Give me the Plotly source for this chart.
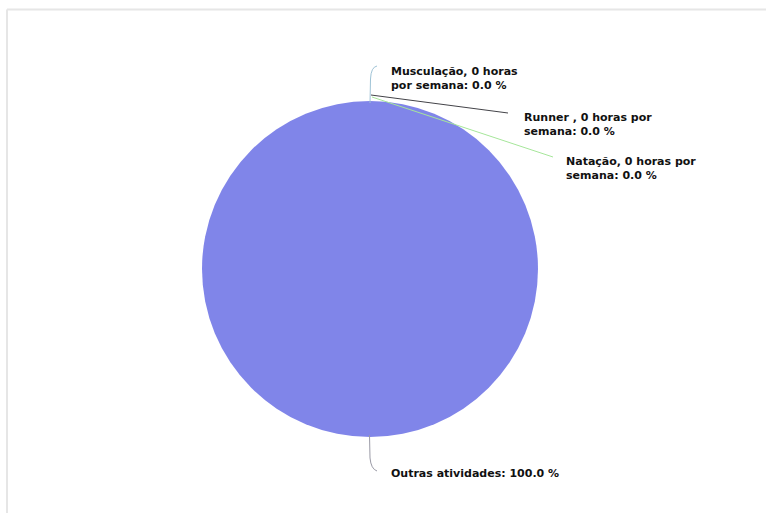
import math
import plotly.graph_objects as go

# ---- data ----
labels = ["Musculação", "Runner ", "Natação", "Outras atividades"]
hours = [0, 0, 0, None]
values = [0, 0, 0, 100]
colors = ["#7cb5ec", "#434348", "#90ed7d", "#8085e9"]
connector_colors = ["#9fc3d6", "#434348", "#a6e69a", "#9a9aa6"]

W, H = 766, 513
cx, cy, R = 370, 269, 168


def px(x):
    return x / W


def py(y):
    return 1 - y / H


fig = go.Figure()
fig.add_trace(go.Pie(
    labels=labels,
    values=values,
    sort=False,
    direction="clockwise",
    rotation=0,
    textinfo="none",
    hoverinfo="label+percent",
    marker=dict(colors=colors, line=dict(width=0)),
    domain=dict(x=[px(cx - R), px(cx + R)], y=[py(cy + R), py(cy - R)]),
    showlegend=False,
))

total = sum(values)
pcts = [v / total * 100 for v in values]

# label texts
texts = [
    f"{labels[0]}, {hours[0]} horas<br>por semana: {pcts[0]:.1f} %",
    f"{labels[1]}, {hours[1]} horas por<br>semana: {pcts[1]:.1f} %",
    f"{labels[2]}, {hours[2]} horas por<br>semana: {pcts[2]:.1f} %",
    f"{labels[3]}: {pcts[3]:.1f} %",
]

# connector start points from slice mid-angles
cum = 0
starts = []
for v in values:
    mid = (cum + v / 2) / total * 2 * math.pi
    starts.append((cx + R * math.sin(mid), cy - R * math.cos(mid)))
    cum += v

shapes = []
annotations = []

# Musculação: vertical then curve right
sx, sy = starts[0]
shapes.append(dict(type="path", xref="paper", yref="paper",
                   path=f"M {px(sx)},{py(sy + 2)} L {px(sx + 0.5)},{py(sy - 22)} "
                        f"Q {px(sx + 1)},{py(sy - 34)} {px(sx + 7)},{py(sy - 35)}",
                   line=dict(color=connector_colors[0], width=1)))
annotations.append(dict(x=px(sx + 19), y=py(sy - 22), text=texts[0]))

# Runner
sx, sy = starts[1]
shapes.append(dict(type="line", xref="paper", yref="paper",
                   x0=px(sx + 1), y0=py(sy - 6), x1=px(sx + 138), y1=py(sy + 12),
                   line=dict(color=connector_colors[1], width=1)))
annotations.append(dict(x=px(sx + 152), y=py(sy + 23), text=texts[1]))

# Natação
sx, sy = starts[2]
shapes.append(dict(type="line", xref="paper", yref="paper",
                   x0=px(sx + 2), y0=py(sy - 4), x1=px(sx + 183), y1=py(sy + 56),
                   line=dict(color=connector_colors[2], width=1)))
annotations.append(dict(x=px(sx + 194), y=py(sy + 67), text=texts[2]))

# Outras atividades: down then curve right
sx, sy = starts[3]
shapes.append(dict(type="path", xref="paper", yref="paper",
                   path=f"M {px(sx - 0.5)},{py(sy - 2)} L {px(sx)},{py(sy + 21)} "
                        f"Q {px(sx + 1)},{py(sy + 32)} {px(sx + 7)},{py(sy + 34)}",
                   line=dict(color=connector_colors[3], width=1)))
annotations.append(dict(x=px(sx + 19), y=py(sy + 36), text=texts[3]))

for a in annotations:
    a.update(xref="paper", yref="paper", showarrow=False, xanchor="left",
             yanchor="middle", align="left",
             font=dict(family="DejaVu Sans, sans-serif", size=11,
                       color="#111111", weight="bold"))

# outer container border (top and left edges visible)
shapes.append(dict(type="line", xref="paper", yref="paper",
                   x0=px(7), y0=py(9.5), x1=1, y1=py(9.5),
                   line=dict(color="#e6e6e6", width=2), layer="below"))
shapes.append(dict(type="line", xref="paper", yref="paper",
                   x0=px(7), y0=py(9.5), x1=px(7), y1=0,
                   line=dict(color="#e6e6e6", width=2), layer="below"))

fig.update_layout(
    width=W, height=H,
    margin=dict(l=0, r=0, t=0, b=0),
    paper_bgcolor="white",
    plot_bgcolor="white",
    shapes=shapes,
    annotations=annotations,
)

fig.write_html("out.html")
